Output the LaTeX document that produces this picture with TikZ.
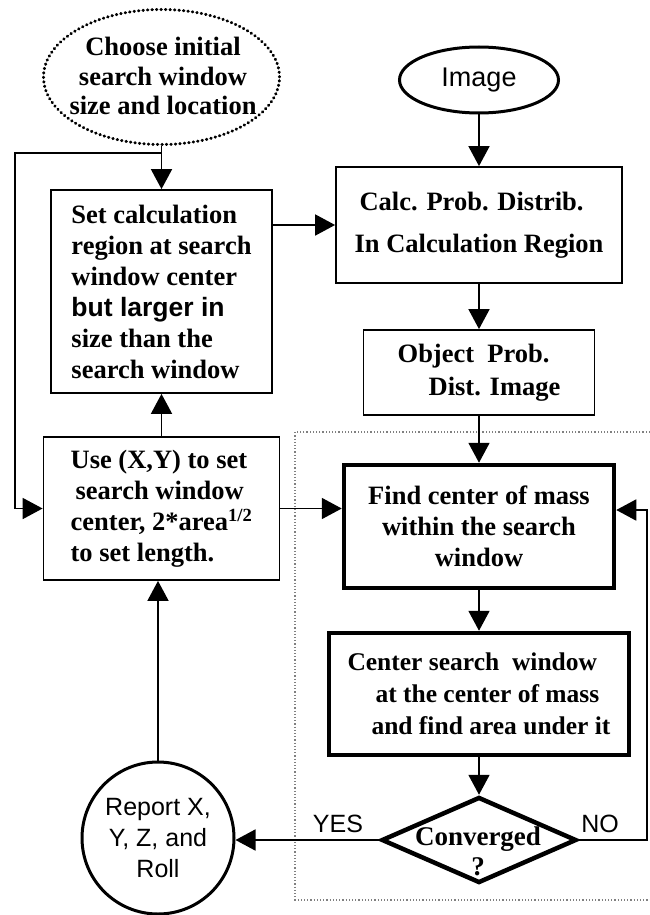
\documentclass[tikz,border=0pt]{standalone}
\usepackage{fontspec}
\setmainfont{Liberation Serif}
\setsansfont{Liberation Sans}
\usetikzlibrary{shapes.geometric,arrows.meta}
\begin{document}
\begin{tikzpicture}[x=1pt,y=-1pt,
  box/.style={draw, line width=1.8pt, inner sep=0pt, font=\bfseries\fontsize{26.5}{31}\selectfont},
  thickbox/.style={box, line width=4.5pt},
  arr/.style={line width=1.8pt, -{Triangle[length=20pt,width=21pt]}},
  sanslbl/.style={font=\sffamily\fontsize{25}{30}\selectfont, inner sep=0pt}
]
\useasboundingbox (0,0) rectangle (650,915);

% dotted region
\draw[dotted, line width=1.2pt, gray] (650,432) -- (295,432) -- (295,900) -- (650,900);

% top ellipses
\node[draw, ellipse, line width=3pt, line cap=round, dash pattern=on 0.5pt off 4pt,
      minimum width=236pt, minimum height=135pt, inner sep=0pt] (choose) at (161.5,77) {};
\node[font=\bfseries\fontsize{26.5}{29.5}\selectfont, align=center, inner sep=0pt] (chooseT) at (163,76)
  {Choose initial\\search window\\size and location};
\node[draw, ellipse, line width=3pt, minimum width=159pt, minimum height=66pt, inner sep=0pt,
      font=\sffamily\fontsize{27}{30}\selectfont] (img) at (479,80) {Image};

% boxes
\node[box, minimum width=221pt, minimum height=203pt, align=left] (set) at (161.5,291.5)
  {Set calculation\\region at search\\window center\\{\sffamily but larger in}\\size than the\\search window};
\node[box, minimum width=286pt, minimum height=116pt, align=left,
      font=\bfseries\fontsize{26.5}{42}\selectfont] (calc) at (479,225)
  {\hspace*{5pt}Calc. Prob. Distrib.\\In Calculation Region};
\node[box, minimum width=231pt, minimum height=85pt, align=left,
      font=\bfseries\fontsize{26.5}{33}\selectfont] (obj) at (479,372.5)
  {Object~~Prob.\\\hspace*{31pt}Dist. Image};
\node[box, minimum width=236pt, minimum height=143pt, align=left] (use) at (161.5,508.5)
  {Use (X,Y) to set\\\hspace*{5pt}search window\\center, 2*area\textsuperscript{1/2}\\to set length.};
\node[thickbox, minimum width=270pt, minimum height=123pt, align=center] (find) at (479,526.5)
  {Find center of mass\\within the search\\window};
\node[thickbox, minimum width=300pt, minimum height=122pt, align=left,
      font=\bfseries\fontsize{25.5}{32}\selectfont] (ctr) at (479,694)
  {Center search~~window\\\hspace*{28pt}at the center of mass\\\hspace*{24pt}and find area under it};

% decision
\node[draw, diamond, line width=4.5pt, minimum width=195pt, minimum height=86pt, inner sep=0pt] (conv) at (479,840) {};
\node[font=\bfseries\fontsize{27}{30}\selectfont, align=center, inner sep=0pt] (convT) at (478,851) {Converged\\?};

% report circle
\node[draw, circle, line width=3pt, minimum size=152pt, inner sep=0pt, align=center,
      font=\sffamily\fontsize{25}{31}\selectfont] (rep) at (158,838) {Report X,\\Y, Z, and\\Roll};

% labels
\node[sanslbl] (yes) at (338,824) {YES};
\node[sanslbl] (no) at (600,824) {NO};

% connectors
\coordinate (j) at (161.5,153);
\coordinate (nr) at (647,510);
\draw[arr] (choose.south) -- (set.north);
\draw[arr] (j) -| ([xshift=-28pt]use.west) -- (use.west);
\draw[arr] (set.east |- calc.west) -- (calc.west);
\draw[arr] (img.south) -- (calc.north);
\draw[arr] (calc.south) -- (obj.north);
\draw[arr] (obj.south) -- (find.north);
\draw[arr] (use.north) -- (set.south);
\draw[arr] (use.east) -- (use.east -| find.west);
\draw[arr] (find.south) -- (ctr.north);
\draw[arr] (ctr.south) -- (conv.north);
\draw[arr] (conv.west) -- (conv.west -| rep.east);
\draw[arr] (conv.east) -| (nr) -- (nr -| find.east);
\draw[arr] (rep.north) -- (rep.north |- use.south);
\end{tikzpicture}
\end{document}
